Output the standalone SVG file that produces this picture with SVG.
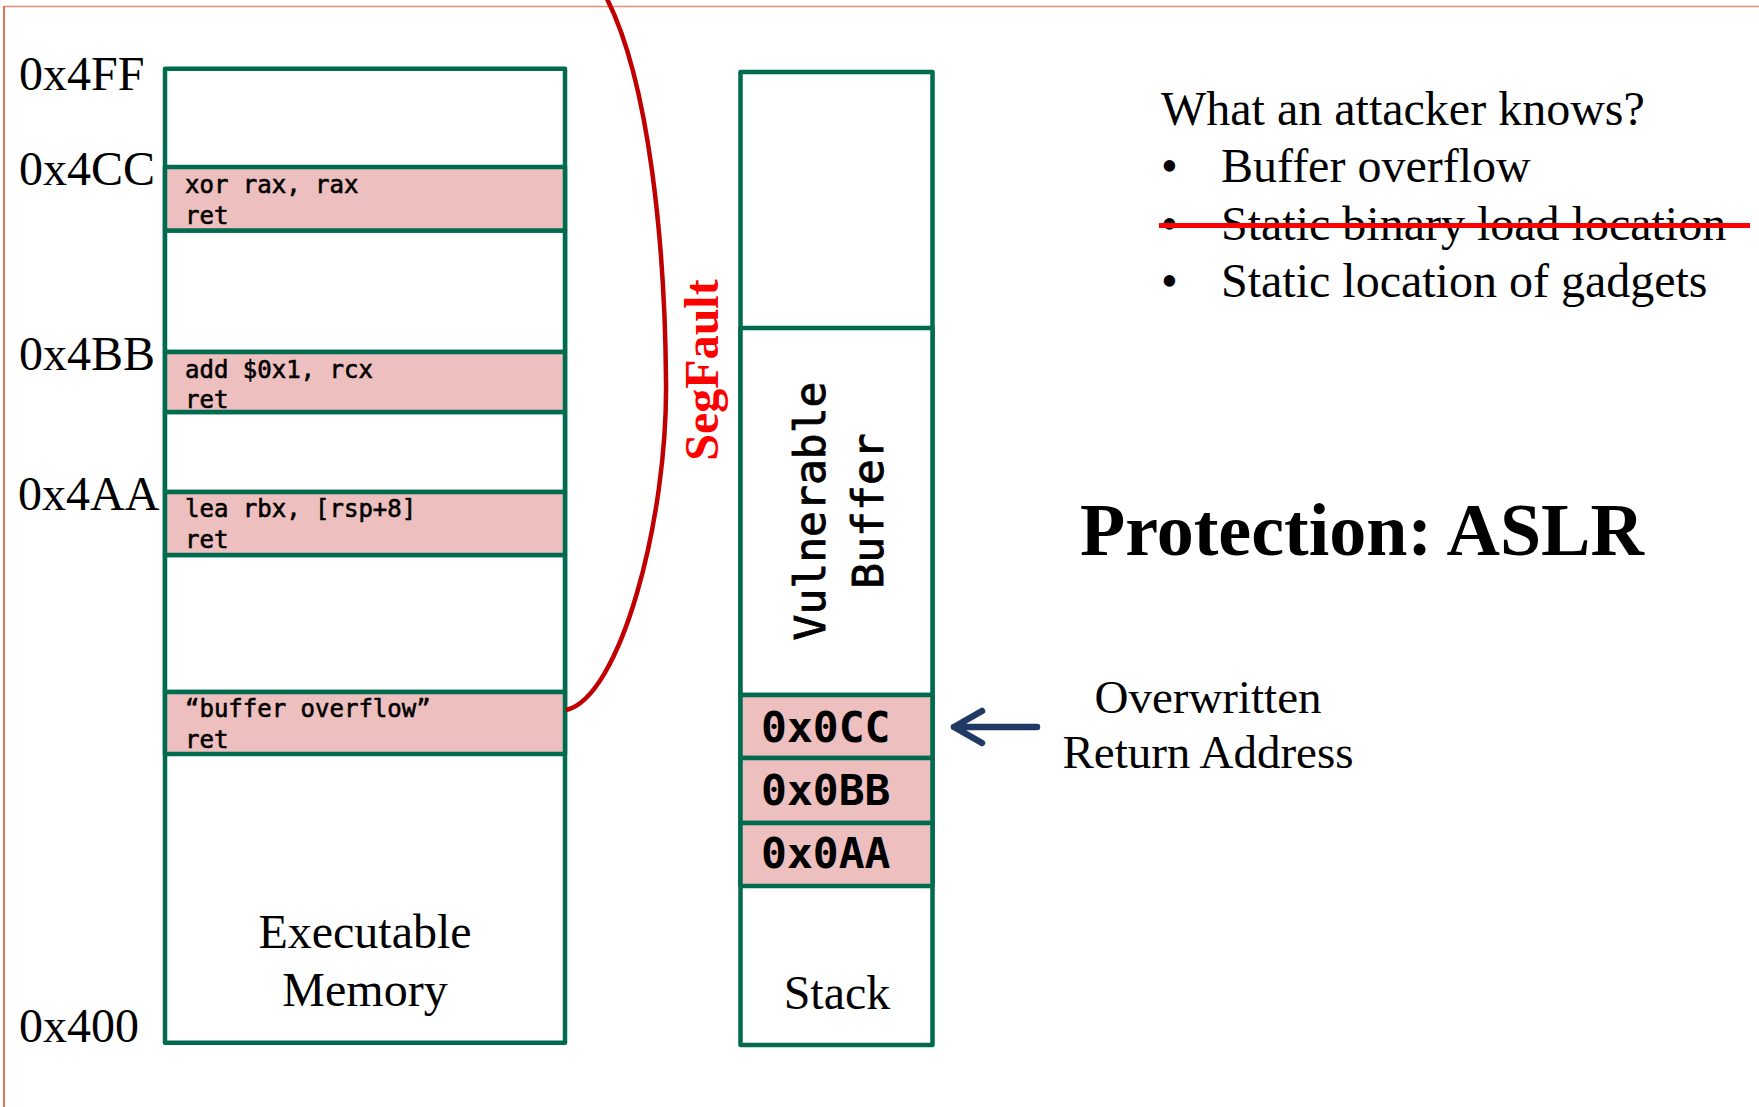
<svg xmlns="http://www.w3.org/2000/svg" width="1759" height="1107" viewBox="0 0 1759 1107">
<defs>
<style>
.cell{fill:#ffffff;stroke:#006B4E;stroke-width:4.5;stroke-linejoin:round}
.gad{fill:#EDBFBF;stroke:#006B4E;stroke-width:4.5;stroke-linejoin:round}
.serif{font-family:"Liberation Serif","Times New Roman",serif;fill:#000}
.addr{font-family:"Liberation Serif","Times New Roman",serif;font-size:48px;fill:#000}
.code{font-family:"DejaVu Sans Mono","Liberation Mono",monospace;font-size:24px;fill:#000;stroke:#000;stroke-width:0.6}
.val{font-family:"DejaVu Sans Mono","Liberation Mono",monospace;font-size:43px;font-weight:bold;fill:#000}
.vb{font-family:"DejaVu Sans Mono","Liberation Mono",monospace;font-size:43px;fill:#000;stroke:#000;stroke-width:0.9}
</style>
</defs>
<rect width="1759" height="1107" fill="#ffffff"/>
<g id="frame">
<line x1="4" y1="6.5" x2="1759" y2="6.5" stroke="#E59078" stroke-width="1.5"/>
<line x1="4" y1="6" x2="4" y2="1107" stroke="#D04A20" stroke-width="1.5"/>
</g>
<g id="address-labels">
<text class="addr" x="19" y="90">0x4FF</text>
<text class="addr" x="19" y="185">0x4CC</text>
<text class="addr" x="19" y="370">0x4BB</text>
<text class="addr" x="18" y="510">0x4AA</text>
<text class="addr" x="19" y="1042">0x400</text>
</g>
<g id="executable-memory">
<rect class="cell" x="165" y="68.7" width="400" height="974"/>
<rect class="cell" x="165" y="230.5" width="400" height="121.5"/>
<rect class="cell" x="165" y="412" width="400" height="80"/>
<rect class="cell" x="165" y="555" width="400" height="137"/>
<text class="serif" x="365" y="948" font-size="48" text-anchor="middle">Executable</text>
<text class="serif" x="365" y="1006" font-size="48" text-anchor="middle">Memory</text>
</g>
<g id="gadget-xor">
<rect class="gad" x="165" y="167" width="400" height="63.5"/>
<text class="code" x="185" y="193">xor rax, rax</text>
<text class="code" x="185" y="224">ret</text>
</g>
<g id="gadget-add">
<rect class="gad" x="165" y="352" width="400" height="60"/>
<text class="code" x="185" y="378">add $0x1, rcx</text>
<text class="code" x="185" y="408">ret</text>
</g>
<g id="gadget-lea">
<rect class="gad" x="165" y="492" width="400" height="63"/>
<text class="code" x="185" y="517">lea rbx, [rsp+8]</text>
<text class="code" x="185" y="548">ret</text>
</g>
<g id="gadget-buffer-overflow">
<rect class="gad" x="165" y="692" width="400" height="62"/>
<text class="code" x="185" y="717">“buffer overflow”</text>
<text class="code" x="185" y="748">ret</text>
</g>
<g id="stack">
<rect class="cell" x="740.5" y="72" width="192" height="973"/>
<rect class="cell" x="740.5" y="328" width="192" height="367"/>
<text class="vb" transform="translate(825,511) rotate(-90)" text-anchor="middle">Vulnerable</text>
<text class="vb" transform="translate(883,511) rotate(-90)" text-anchor="middle">Buffer</text>
<text class="serif" x="837" y="1009" font-size="48" text-anchor="middle">Stack</text>
</g>
<g id="ret-0x0CC">
<rect class="gad" x="740.5" y="695" width="192" height="63"/>
<text class="val" x="761" y="742">0x0CC</text>
</g>
<g id="ret-0x0BB">
<rect class="gad" x="740.5" y="758" width="192" height="65"/>
<text class="val" x="761" y="805">0x0BB</text>
</g>
<g id="ret-0x0AA">
<rect class="gad" x="740.5" y="823" width="192" height="63"/>
<text class="val" x="761" y="868">0x0AA</text>
</g>
<g id="connectors">
<path d="M566,710 C620,698 668,520 666,380 C665,250 650,80 605,-5" fill="none" stroke="#C00000" stroke-width="4.5"/>
<path d="M982,711 L954,727 L982,743 M954,727 H1037" fill="none" stroke="#1F3864" stroke-width="6.5" stroke-linecap="round" stroke-linejoin="round"/>
</g>
<g id="segfault-label">
<text class="serif" transform="translate(718,370) rotate(-90)" text-anchor="middle" font-size="48" font-weight="bold" style="fill:#FF0000">SegFault</text>
</g>
<g id="overwritten-label">
<text class="serif" x="1208" y="713" font-size="47" text-anchor="middle">Overwritten</text>
<text class="serif" x="1208" y="768" font-size="47" text-anchor="middle">Return Address</text>
</g>
<g id="attacker-knows">
<text class="serif" x="1161" y="125" font-size="48">What an attacker knows?</text>
<text class="serif" x="1161" y="182" font-size="48">•</text>
<text class="serif" x="1221" y="182" font-size="48">Buffer overflow</text>
<text class="serif" x="1161" y="240" font-size="48">•</text>
<text class="serif" x="1221" y="240" font-size="48">Static binary load location</text>
<text class="serif" x="1161" y="297" font-size="48">•</text>
<text class="serif" x="1221" y="297" font-size="48">Static location of gadgets</text>
<line x1="1159" y1="225.5" x2="1750" y2="225.5" stroke="#FF0000" stroke-width="5"/>
</g>
<g id="title">
<text class="serif" x="1080" y="555" font-size="74" font-weight="bold">Protection: ASLR</text>
</g>
</svg>
